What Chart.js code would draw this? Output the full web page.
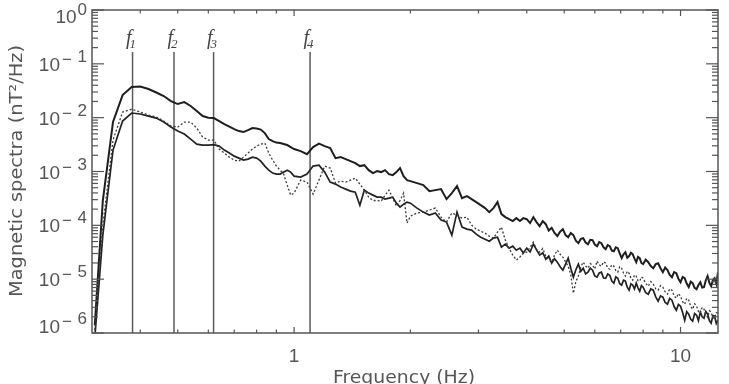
<!DOCTYPE html>
<html><head><meta charset="utf-8">
<script src="https://cdn.jsdelivr.net/npm/chart.js@4/dist/chart.umd.min.js"></script>
<style>html,body{margin:0;padding:0;background:#fff;}canvas{display:block;}</style>
</head><body>
<canvas id="c" width="729" height="384"></canvas>
<script>
// ---- data ----
const freq = [
0.305,0.32,0.34,0.36,0.38,0.40,0.42,0.44,0.46,0.48,
0.50,0.52,0.54,0.56,0.58,0.60,0.62,0.64,0.66,0.68,
0.70,0.72,0.74,0.76,0.78,0.80,0.82,0.84,0.86,0.88,
0.90,0.92,0.94,0.96,0.98,1.00,1.04,1.08,1.12,1.16,
1.20,1.24,1.28,1.32,1.36,1.40,1.44,1.48,1.52,1.56,
1.60,1.64,1.68,1.72,1.76,1.80,1.84,1.88,1.92,1.96,
2.00,2.08,2.16,2.24,2.32,2.40,2.48,2.56,2.64,2.72,
2.80,2.88,2.96,3.04,3.12,3.20,3.28,3.36,3.44,3.52,
3.60,3.68,3.76,3.84,3.92,
4.00,4.08,4.16,4.24,4.32,4.40,4.48,4.56,4.64,4.72,
4.80,4.88,4.96,5.04,5.12,5.20,5.28,5.36,5.44,5.52,
5.60,5.68,5.76,5.84,5.92,6.00,6.08,6.16,6.24,6.32,
6.40,6.48,6.56,6.64,6.72,6.80,6.88,6.96,7.04,7.12,
7.20,7.28,7.36,7.44,7.52,7.60,7.68,7.76,7.84,7.92,
8.00,8.125,8.25,8.375,8.5,8.625,8.75,8.875,9.0,9.125,
9.25,9.375,9.5,9.625,9.75,9.875,10.0,10.125,10.25,10.375,
10.5,10.625,10.75,10.875,11.0,11.125,11.25,11.375,11.5,11.625,
11.75,11.875,12.0,12.125,12.25,12.375,12.5];

const upperSpec = [
1.40e-6,2.89e-4,8.3e-3,2.63e-2,3.71e-2,3.79e-2,3.40e-2,2.93e-2,2.52e-2,2.03e-2,
1.79e-2,1.95e-2,1.65e-2,1.33e-2,1.07e-2,1.00e-2,9.83e-3,8.65e-3,7.60e-3,6.83e-3,
6.14e-3,5.63e-3,5.40e-3,5.88e-3,6.41e-3,6.27e-3,6.01e-3,5.17e-3,4.00e-3,3.67e-3,
3.44e-3,3.37e-3,3.23e-3,3.10e-3,2.84e-3,2.61e-3,2.39e-3,2.10e-3,2.84e-3,3.30e-3,
2.96e-3,2.72e-3,1.77e-3,1.85e-3,1.70e-3,1.56e-3,1.43e-3,1.26e-3,1.31e-3,1.06e-3,
9.34e-4,1.02e-3,9.75e-4,1.06e-3,8.95e-4,8.57e-4,9.75e-4,1.16e-3,8.21e-4,6.92e-4,
6.63e-4,6.09e-4,5.58e-4,4.32e-4,4.51e-4,4.71e-4,3.07e-4,3.97e-4,5.35e-4,3.20e-4,
3.49e-4,3.07e-4,2.70e-4,2.37e-4,2.09e-4,1.76e-4,2.09e-4,2.70e-4,1.62e-4,1.42e-4,
1.30e-4,1.20e-4,1.36e-4,1.20e-4,1.36e-4,
1.30e-4,1.10e-4,1.42e-4,1.15e-4,9.66e-5,1.20e-4,1.05e-4,8.0e-5,9.0e-5,7.2e-5,
6.30e-5,7.6e-5,8.50e-5,6.6e-5,6.03e-5,7.2e-5,6.57e-5,5.2e-5,4.67e-5,5.6e-5,
5.78e-5,4.8e-5,4.47e-5,5.4e-5,5.31e-5,4.4e-5,4.10e-5,4.9e-5,4.67e-5,3.9e-5,
3.61e-5,4.3e-5,4.10e-5,3.4e-5,3.31e-5,3.9e-5,3.77e-5,3.0e-5,2.46e-5,2.9e-5,
3.18e-5,2.5e-5,2.68e-5,3.1e-5,2.91e-5,2.4e-5,2.07e-5,2.6e-5,2.46e-5,2.0e-5,
1.90e-5,2.3e-5,2.07e-5,1.75e-5,1.60e-5,1.9e-5,1.98e-5,1.6e-5,1.35e-5,1.65e-5,
1.47e-5,1.2e-5,1.09e-5,1.35e-5,1.29e-5,1.02e-5,8.80e-6,1.1e-5,1.04e-5,8.3e-6,
7.10e-6,9.0e-6,8.43e-6,6.9e-6,6.52e-6,7.8e-6,8.80e-6,7.0e-6,7.10e-6,9.5e-6,
1.14e-5,8.5e-6,7.41e-6,9.6e-6,1.04e-5,8.2e-6,1.35e-5];

const lowerSpec = [
8.0e-7,6.57e-5,2.50e-3,8.65e-3,1.22e-2,1.17e-2,1.07e-2,9.83e-3,8.28e-3,6.69e-3,
5.63e-3,4.96e-3,4.00e-3,3.23e-3,3.10e-3,3.10e-3,3.16e-3,2.96e-3,2.50e-3,2.20e-3,
1.93e-3,1.77e-3,1.63e-3,1.70e-3,1.85e-3,1.77e-3,1.56e-3,1.26e-3,1.06e-3,9.34e-4,
8.95e-4,8.95e-4,9.75e-4,1.06e-3,9.75e-4,8.21e-4,7.86e-4,8.95e-4,1.26e-3,1.31e-3,
9.75e-4,6.36e-4,5.83e-4,5.13e-4,4.71e-4,4.32e-4,4.14e-4,2.37e-4,4.51e-4,3.97e-4,
3.64e-4,3.34e-4,3.34e-4,3.07e-4,3.20e-4,3.34e-4,2.58e-4,2.18e-4,2.47e-4,2.70e-4,
2.58e-4,2.09e-4,1.76e-4,1.55e-4,1.69e-4,1.25e-4,1.15e-4,6.57e-5,1.76e-4,9.26e-5,
8.50e-5,8.14e-5,6.86e-5,6.03e-5,5.53e-5,5.08e-5,5.78e-5,6.03e-5,3.93e-5,4.47e-5,
3.77e-5,4.10e-5,3.45e-5,3.77e-5,3.05e-5,
3.77e-5,3.2e-5,4.47e-5,3.5e-5,2.80e-5,3.1e-5,2.35e-5,2.7e-5,1.98e-5,2.4e-5,
2.07e-5,1.7e-5,1.47e-5,1.9e-5,2.46e-5,1.6e-5,1.09e-5,1.5e-5,1.90e-5,1.4e-5,
1.60e-5,1.25e-5,1.35e-5,1.6e-5,1.47e-5,1.15e-5,1.09e-5,1.3e-5,1.35e-5,1.05e-5,
1.04e-5,1.25e-5,1.18e-5,9.2e-6,8.43e-6,1.1e-5,1.04e-5,8.2e-6,7.74e-6,9.6e-6,
9.18e-6,7.1e-6,6.25e-6,8.2e-6,7.74e-6,6.6e-6,8.43e-6,6.9e-6,5.98e-6,7.6e-6,
7.10e-6,5.6e-6,5.26e-6,6.6e-6,6.25e-6,4.7e-6,3.90e-6,4.9e-6,4.63e-6,3.7e-6,
3.43e-6,4.4e-6,4.07e-6,3.1e-6,2.65e-6,3.4e-6,3.15e-6,2.4e-6,1.73e-6,2.5e-6,
2.24e-6,1.8e-6,1.66e-6,2.3e-6,2.14e-6,1.7e-6,2.44e-6,2.0e-6,1.88e-6,2.5e-6,
2.24e-6,1.7e-6,1.52e-6,2.1e-6,2.05e-6,1.5e-6,1.73e-6];

const dottedSpec = [
1.13e-6,1.01e-4,3.84e-3,1.27e-2,1.44e-2,1.27e-2,1.12e-2,1.03e-2,8.65e-3,6.98e-3,
6.69e-3,8.28e-3,8.28e-3,6.41e-3,4.36e-3,3.84e-3,3.84e-3,2.61e-3,2.20e-3,1.85e-3,
1.63e-3,1.56e-3,1.85e-3,2.20e-3,2.61e-3,2.96e-3,3.23e-3,3.37e-3,2.20e-3,1.63e-3,
1.26e-3,1.06e-3,8.95e-4,5.58e-4,3.64e-4,3.97e-4,6.92e-4,6.36e-4,3.80e-4,6.92e-4,
1.26e-3,1.16e-3,6.09e-4,6.63e-4,6.36e-4,6.92e-4,7.54e-4,5.83e-4,4.51e-4,3.34e-4,
2.89e-4,2.89e-4,2.81e-4,3.64e-4,4.51e-4,3.20e-4,2.27e-4,2.89e-4,3.97e-4,1.10e-4,
1.48e-4,1.69e-4,1.76e-4,1.92e-4,2.09e-4,1.42e-4,1.15e-4,1.69e-4,1.55e-4,1.36e-4,
1.42e-4,1.01e-4,8.50e-5,7.80e-5,7.16e-5,6.30e-5,5.78e-5,7.48e-5,9.26e-5,5.31e-5,
3.77e-5,2.80e-5,2.26e-5,2.57e-5,3.05e-5,
3.18e-5,3.9e-5,4.87e-5,3.6e-5,3.18e-5,3.7e-5,2.68e-5,2.3e-5,2.07e-5,2.8e-5,
3.45e-5,2.9e-5,2.57e-5,2.1e-5,1.74e-5,1.2e-5,5.49e-6,9.0e-6,1.14e-5,1.7e-5,
2.07e-5,1.75e-5,1.60e-5,1.95e-5,1.82e-5,1.55e-5,2.16e-5,1.85e-5,1.74e-5,2.1e-5,
1.98e-5,1.6e-5,1.53e-5,1.85e-5,1.74e-5,1.45e-5,1.35e-5,1.7e-5,1.60e-5,1.3e-5,
1.14e-5,1.4e-5,1.29e-5,1.05e-5,9.58e-6,1.2e-5,1.14e-5,9.4e-6,9.18e-6,1.1e-5,
1.04e-5,8.4e-6,7.41e-6,9.0e-6,8.07e-6,6.6e-6,6.25e-6,7.6e-6,7.10e-6,5.8e-6,
5.26e-6,6.6e-6,6.25e-6,4.9e-6,4.44e-6,5.4e-6,4.83e-6,3.8e-6,3.43e-6,4.4e-6,
4.07e-6,3.1e-6,2.77e-6,3.5e-6,3.15e-6,2.5e-6,2.33e-6,3.0e-6,2.77e-6,2.2e-6,
1.97e-6,2.6e-6,2.44e-6,1.9e-6,1.88e-6,2.4e-6,2.33e-6];

const markerFreqs  = [0.382, 0.489, 0.619, 1.10];
const markerLabels = ['1', '2', '3', '4'];
const markerRange  = [1e-6, 0.166];
const xRange = [0.305, 12.5];
const yRange = [1e-6, 1];
const yTickExponents = [0, -1, -2, -3, -4, -5, -6];
const xMajorTicks = [1, 10];
const xTickLabels = ['1', '10'];
const xMinorTicks = [0.4, 0.5, 0.6, 0.7, 0.8, 0.9, 2, 3, 4, 5, 6, 7, 8, 9];
const yMinorMultipliers = [2, 3, 4, 5, 6, 7, 8, 9];
const xTitle = 'Frequency (Hz)';
const yTitle = 'Magnetic spectra (nT\u00B2/Hz)';

// ---- build datasets ----
const toPts = arr => freq.map((f, i) => ({x: f, y: arr[i]}));
const datasets = [
  {data: toPts(dottedSpec), borderColor: '#3a3a3a', borderWidth: 1.3, borderDash: [2, 2]},
  {data: toPts(lowerSpec), borderColor: '#222', borderWidth: 1.7},
  {data: toPts(upperSpec), borderColor: '#1e1e1e', borderWidth: 2}
];
markerFreqs.forEach(f => datasets.push({
  data: [{x: f, y: markerRange[0]}, {x: f, y: markerRange[1]}],
  borderColor: '#5a5a5a', borderWidth: 1.5
}));

const AX = '#555';
const decor = {
  id: 'decor',
  afterDraw(chart) {
    const {ctx, chartArea: a, scales: {x, y}} = chart;
    ctx.save();
    ctx.strokeStyle = AX; ctx.lineWidth = 1.5;
    ctx.strokeRect(a.left, a.top, a.right - a.left, a.bottom - a.top);
    ctx.lineWidth = 1.2;
    const line = (x1, y1, x2, y2) => { ctx.beginPath(); ctx.moveTo(x1, y1); ctx.lineTo(x2, y2); ctx.stroke(); };
    // y ticks
    yTickExponents.forEach(e => {
      const py = y.getPixelForValue(Math.pow(10, e));
      line(a.left, py, a.left + 12, py); line(a.right, py, a.right - 12, py);
    });
    yTickExponents.slice(1).forEach(e => {
      yMinorMultipliers.forEach(m => {
        const py = y.getPixelForValue(m * Math.pow(10, e));
        line(a.left, py, a.left + 6, py); line(a.right, py, a.right - 6, py);
      });
    });
    // x ticks
    xMajorTicks.forEach(v => {
      const px = x.getPixelForValue(v);
      line(px, a.bottom, px, a.bottom - 6); line(px, a.top, px, a.top + 6);
    });
    xMinorTicks.forEach(v => {
      const px = x.getPixelForValue(v);
      line(px, a.bottom, px, a.bottom - 3.5); line(px, a.top, px, a.top + 3.5);
    });
    // y labels
    ctx.fillStyle = AX;
    const R = 87;
    yTickExponents.forEach(e => {
      let cy = y.getPixelForValue(Math.pow(10, e));
      cy = Math.min(Math.max(cy, a.top + 6), a.bottom - 7);
      ctx.textBaseline = 'alphabetic';
      if (e === 0) {
        ctx.font = '17px "Liberation Sans"'; ctx.textAlign = 'right';
        const sw = ctx.measureText('0').width;
        ctx.fillText('0', R, cy - 1);
        ctx.font = '19px "Liberation Sans"';
        ctx.fillText('10', R - sw - 1, cy + 7);
      } else {
        ctx.font = '17px "Liberation Sans"'; ctx.textAlign = 'right';
        ctx.fillText(String(-e), R, cy - 2);
        ctx.textAlign = 'left';
        ctx.fillText('\u2212', R - 25, cy + 1);
        ctx.font = '19px "Liberation Sans"'; ctx.textAlign = 'right';
        ctx.fillText('10', R - 27, cy + 7);
      }
    });
    // x labels
    ctx.font = '19px "Liberation Sans"'; ctx.textAlign = 'center';
    xMajorTicks.forEach((v, i) => ctx.fillText(xTickLabels[i], x.getPixelForValue(v), 362));
    // titles, fitted to widths measured on the reference
    const fitText = (txt, w, font) => {
      ctx.font = font; const mw = ctx.measureText(txt).width;
      ctx.scale(w / mw, 1); ctx.textAlign = 'center'; ctx.fillText(txt, 0, 0);
    };
    ctx.save(); ctx.translate(404, 383); fitText(xTitle, 142, '18px "DejaVu Sans"'); ctx.restore();
    ctx.save(); ctx.translate(22, 171); ctx.rotate(-Math.PI / 2); fitText(yTitle, 252, '17px "DejaVu Sans"'); ctx.restore();
    // marker labels f1..f4
    ctx.fillStyle = '#444';
    markerFreqs.forEach((f, i) => {
      const px = x.getPixelForValue(f);
      const top = y.getPixelForValue(markerRange[1]);
      ctx.font = 'italic 20px "Liberation Serif"'; ctx.textAlign = 'right';
      ctx.fillText('f', px - 1, top - 8);
      ctx.font = 'italic 13px "Liberation Serif"'; ctx.textAlign = 'left';
      ctx.fillText(markerLabels[i], px - 3, top - 4);
    });
    ctx.restore();
  }
};

new Chart(document.getElementById('c'), {
  type: 'line',
  data: {datasets},
  options: {
    responsive: false, animation: false, devicePixelRatio: 1,
    layout: {padding: {left: 92, right: 11, top: 10, bottom: 51}},
    plugins: {legend: {display: false}, tooltip: {enabled: false}},
    elements: {point: {radius: 0}, line: {tension: 0, fill: false}},
    scales: {
      x: {type: 'logarithmic', min: xRange[0], max: xRange[1], display: false},
      y: {type: 'logarithmic', min: yRange[0], max: yRange[1], display: false}
    }
  },
  plugins: [decor]
});
</script>
</body></html>
